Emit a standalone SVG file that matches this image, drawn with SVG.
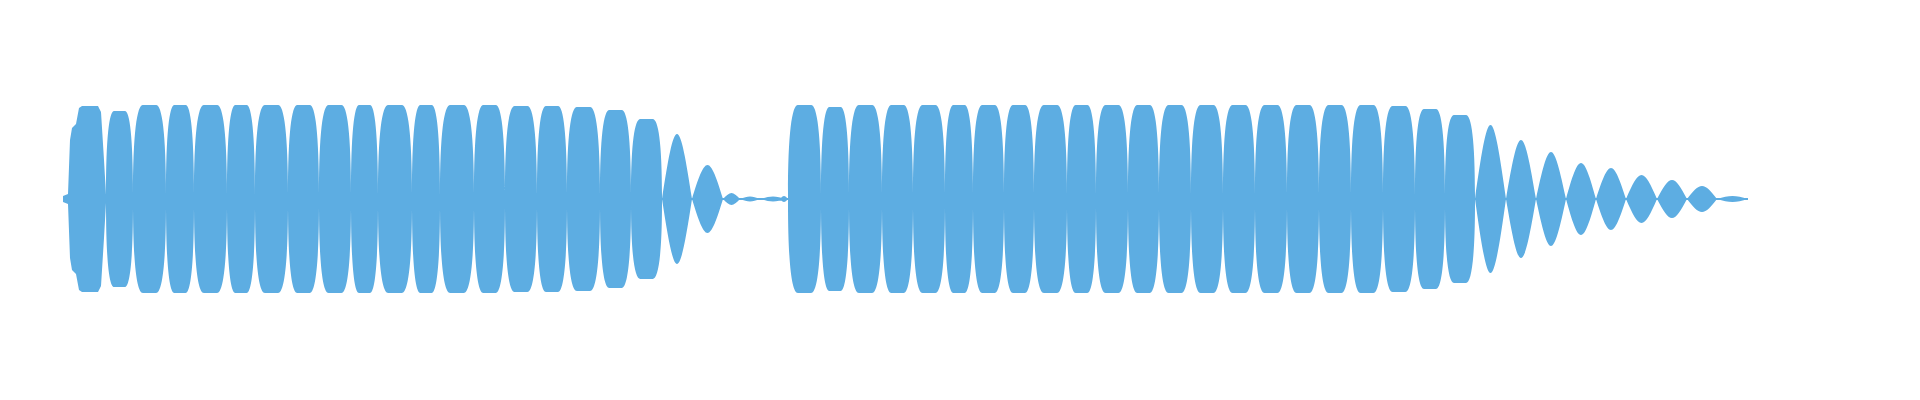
<svg xmlns="http://www.w3.org/2000/svg" width="1920" height="400" viewBox="0 0 1920 400">
<style>.w{fill:#5DADE2}</style>
<defs>
<path id="top" d="M63,199V196L68,194L70,140L72,128L76,124L79,108L82,106H98L101,112L104,160L106,195V199z
M106,199v-4c0,-58 3.2,-84 8.1,-84h10.8c4.9,0 8.1,26 8.1,84v4z
M133,199v-4c0,-62 4,-90 9.9,-90h13.2c5.9,0 9.9,28 9.9,90v4z
M166,199v-4c0,-62 3.4,-90 8.4,-90h11.2c5,0 8.4,28 8.4,90v4z
M194,199v-4c0,-62 4,-90 9.9,-90h13.2c5.9,0 9.9,28 9.9,90v4z
M227,199v-4c0,-62 3.4,-90 8.4,-90h11.2c5,0 8.4,28 8.4,90v4z
M255,199v-4c0,-62 4,-90 9.9,-90h13.2c5.9,0 9.9,28 9.9,90v4z
M288,199v-4c0,-62 3.7,-90 9.3,-90h12.4c5.6,0 9.3,28 9.3,90v4z
M319,199v-4c0,-62 3.8,-90 9.6,-90h12.8c5.8,0 9.6,28 9.6,90v4z
M351,199v-4c0,-62 3.2,-90 8.1,-90h10.8c4.9,0 8.1,28 8.1,90v4z
M378,199v-4c0,-62 4.1,-90 10.2,-90h13.6c6.1,0 10.2,28 10.2,90v4z
M412,199v-4c0,-62 3.4,-90 8.4,-90h11.2c5,0 8.4,28 8.4,90v4z
M440,199v-4c0,-62 4.1,-90 10.2,-90h13.6c6.1,0 10.2,28 10.2,90v4z
M474,199v-4c0,-62 3.7,-90 9.3,-90h12.4c5.6,0 9.3,28 9.3,90v4z
M505,199v-4c0,-61 3.8,-89 9.6,-89h12.8c5.8,0 9.6,28 9.6,89v4z
M537,199v-4c0,-61 3.6,-89 9,-89h12c5.4,0 9,28 9,89v4z
M567,199v-4c0,-60 4,-88 9.9,-88h13.2c5.9,0 9.9,28 9.9,88v4z
M600,199v-4c0,-58 3.7,-85 9.3,-85h12.4c5.6,0 9.3,27 9.3,85v4z
M631,199v-4c0,-52 3.7,-76 9.3,-76h12.4c5.6,0 9.3,24 9.3,76v4z
M662,199c6,-39 10.5,-65 15,-65s9,26 15,65z
M692,199c6.2,-20.4 10.9,-34 15.5,-34s9.3,13.6 15.5,34z
M723,199c3.4,-3.6 6,-6 8.5,-6s5.1,2.4 8.5,6z
M740,199c4,-1.5 7,-2.5 10,-2.5s6,1 10,2.5z
M760,199c5.2,-1.5 9.1,-2.5 13,-2.5s7.8,1 13,2.5z
M780,199c1.6,-1.8 2.8,-3 4,-3s2.4,1.2 4,3z
M788,199v-4c0,-62 4,-90 9.9,-90h13.2c5.9,0 9.9,28 9.9,90v4z
M821,199v-4c0,-60 3.4,-88 8.4,-88h11.2c5,0 8.4,28 8.4,88v4z
M849,199v-4c0,-62 4,-90 9.9,-90h13.2c5.9,0 9.9,28 9.9,90v4z
M882,199v-4c0,-62 3.7,-90 9.3,-90h12.4c5.6,0 9.3,28 9.3,90v4z
M913,199v-4c0,-62 3.8,-90 9.6,-90h12.8c5.8,0 9.6,28 9.6,90v4z
M945,199v-4c0,-62 3.4,-90 8.4,-90h11.2c5,0 8.4,28 8.4,90v4z
M973,199v-4c0,-62 3.7,-90 9.3,-90h12.4c5.6,0 9.3,28 9.3,90v4z
M1004,199v-4c0,-62 3.6,-90 9,-90h12c5.4,0 9,28 9,90v4z
M1034,199v-4c0,-62 4,-90 9.9,-90h13.2c5.9,0 9.9,28 9.9,90v4z
M1067,199v-4c0,-62 3.5,-90 8.7,-90h11.6c5.2,0 8.7,28 8.7,90v4z
M1096,199v-4c0,-62 3.8,-90 9.6,-90h12.8c5.8,0 9.6,28 9.6,90v4z
M1128,199v-4c0,-62 3.7,-90 9.3,-90h12.4c5.6,0 9.3,28 9.3,90v4z
M1159,199v-4c0,-62 3.8,-90 9.6,-90h12.8c5.8,0 9.6,28 9.6,90v4z
M1191,199v-4c0,-62 3.8,-90 9.6,-90h12.8c5.8,0 9.6,28 9.6,90v4z
M1223,199v-4c0,-62 3.8,-90 9.6,-90h12.8c5.8,0 9.6,28 9.6,90v4z
M1255,199v-4c0,-62 3.8,-90 9.6,-90h12.8c5.8,0 9.6,28 9.6,90v4z
M1287,199v-4c0,-62 3.8,-90 9.6,-90h12.8c5.8,0 9.6,28 9.6,90v4z
M1319,199v-4c0,-62 3.8,-90 9.6,-90h12.8c5.8,0 9.6,28 9.6,90v4z
M1351,199v-4c0,-62 3.8,-90 9.6,-90h12.8c5.8,0 9.6,28 9.6,90v4z
M1383,199v-4c0,-61 3.8,-89 9.6,-89h12.8c5.8,0 9.6,28 9.6,89v4z
M1415,199v-4c0,-59 3.6,-86 9,-86h12c5.4,0 9,27 9,86v4z
M1445,199v-4c0,-55 3.6,-80 9,-80h12c5.4,0 9,25 9,80v4z
M1475,199c6.2,-44.4 10.9,-74 15.5,-74s9.3,29.6 15.5,74z
M1506,199c6,-35.4 10.5,-59 15,-59s9,23.6 15,59z
M1536,199c6,-28 10.5,-47 15,-47s9,19 15,47z
M1566,199c6,-21.6 10.5,-36 15,-36s9,14.4 15,36z
M1596,199c6,-18.6 10.5,-31 15,-31s9,12.4 15,31z
M1626,199c6.2,-14.4 10.9,-24 15.5,-24s9.3,9.6 15.5,24z
M1657,199c6,-11.4 10.5,-19 15,-19s9,7.6 15,19z
M1687,199c6,-7.8 10.5,-13 15,-13s9,5.2 15,13z
M1717,199c6.2,-1.8 10.9,-3 15.5,-3s9.3,1.2 15.5,3z"/>
</defs>
<g id="waveform" class="w">
<use href="#top"/>
<use href="#top" transform="matrix(1 0 0 -1 0 398)"/>
<rect x="63" y="198" width="1685" height="2"/>
</g>
</svg>
